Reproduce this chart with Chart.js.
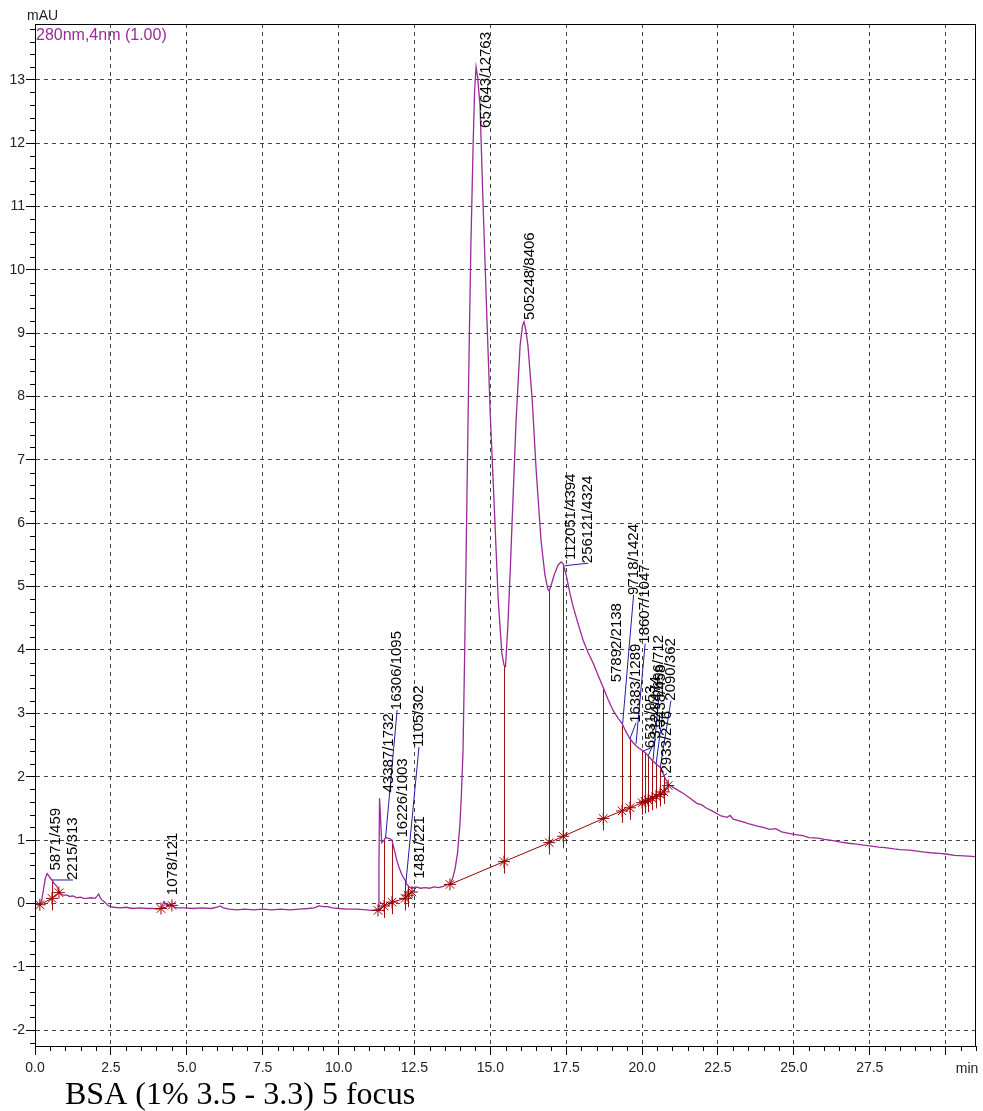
<!DOCTYPE html>
<html><head><meta charset="utf-8">
<script src="https://cdn.jsdelivr.net/npm/chart.js@4.4.0/dist/chart.umd.min.js"></script>
<style>html,body{margin:0;padding:0;background:#fff}canvas{display:block}</style>
</head><body>
<canvas id="c" width="983" height="1111"></canvas>
<script>
// ---- Chromatogram signal (time in min, signal in mAU) ----
const curveTime = [0.00,0.10,0.16,0.22,0.28,0.34,0.40,0.46,0.52,0.56,0.62,0.72,0.79,0.86,0.93,1.05,1.15,1.25,1.38,1.50,1.60,1.71,1.85,1.98,2.05,2.10,2.15,2.20,2.30,2.40,2.47,2.60,2.80,3.00,3.20,3.46,3.70,3.90,4.05,4.15,4.20,4.25,4.32,4.38,4.45,4.51,4.60,4.68,4.90,5.20,5.50,5.80,6.00,6.10,6.20,6.40,6.65,6.90,7.20,7.50,7.80,8.10,8.40,8.70,9.00,9.20,9.35,9.50,9.65,9.80,10.00,10.30,10.60,10.90,11.10,11.25,11.30,11.33,11.35,11.38,11.42,11.46,11.50,11.55,11.62,11.70,11.76,11.84,11.92,12.00,12.08,12.15,12.19,12.25,12.29,12.36,12.42,12.55,12.70,12.85,13.00,13.15,13.30,13.45,13.60,13.67,13.75,13.84,13.92,14.00,14.05,14.10,14.15,14.20,14.25,14.30,14.36,14.43,14.48,14.53,14.58,14.66,14.76,14.89,15.00,15.12,15.26,15.38,15.45,15.50,15.58,15.66,15.72,15.85,15.98,16.06,16.11,16.17,16.24,16.38,16.51,16.67,16.80,16.90,16.94,17.02,17.10,17.23,17.33,17.40,17.50,17.62,17.73,17.90,18.06,18.22,18.39,18.55,18.72,18.88,19.04,19.20,19.34,19.48,19.60,19.70,19.80,19.90,20.00,20.10,20.20,20.33,20.46,20.59,20.72,20.86,21.00,21.20,21.35,21.58,21.80,21.95,22.10,22.35,22.60,22.80,22.90,23.00,23.30,23.50,23.80,24.00,24.20,24.40,24.60,24.80,25.00,25.30,25.50,25.80,26.00,26.30,26.50,26.80,27.00,27.30,27.50,27.80,28.00,28.30,28.50,28.80,29.00,29.30,29.50,29.80,30.00,30.30,30.60,31.00];
const curveSignal = [0.00,-0.02,-0.02,0.05,0.22,0.40,0.47,0.43,0.39,0.37,0.32,0.27,0.19,0.15,0.13,0.13,0.11,0.12,0.09,0.10,0.08,0.08,0.09,0.08,0.12,0.15,0.09,0.06,0.02,-0.03,-0.05,-0.06,-0.07,-0.06,-0.08,-0.07,-0.08,-0.08,-0.09,-0.08,-0.03,0.03,-0.01,-0.02,-0.01,-0.03,-0.06,-0.07,-0.07,-0.08,-0.07,-0.08,-0.06,-0.04,-0.07,-0.09,-0.10,-0.09,-0.10,-0.09,-0.10,-0.09,-0.10,-0.09,-0.08,-0.07,-0.04,-0.05,-0.05,-0.07,-0.08,-0.09,-0.09,-0.10,-0.11,-0.10,-0.11,0.50,1.66,1.40,0.96,0.98,1.00,1.04,1.03,1.02,1.00,0.84,0.68,0.56,0.46,0.40,0.37,0.30,0.28,0.25,0.24,0.26,0.24,0.25,0.24,0.26,0.25,0.27,0.30,0.31,0.38,0.55,0.80,1.25,1.75,2.40,3.80,5.40,7.10,8.70,10.40,11.90,12.80,13.20,13.05,12.60,11.06,9.20,7.70,6.37,4.79,3.95,3.76,3.74,4.40,5.30,6.05,7.63,8.80,9.12,9.18,9.05,8.80,7.95,6.84,5.73,5.18,4.95,4.93,5.05,5.18,5.34,5.39,5.36,5.18,4.90,4.68,4.40,4.15,3.96,3.79,3.60,3.41,3.22,3.05,2.93,2.84,2.70,2.60,2.54,2.49,2.45,2.42,2.38,2.33,2.26,2.20,2.15,2.02,1.88,1.84,1.78,1.74,1.66,1.58,1.56,1.51,1.45,1.38,1.36,1.39,1.33,1.29,1.26,1.22,1.20,1.17,1.18,1.13,1.11,1.09,1.07,1.04,1.03,1.01,0.99,0.97,0.95,0.94,0.92,0.91,0.89,0.88,0.86,0.85,0.84,0.83,0.81,0.80,0.79,0.78,0.76,0.75,0.74];

// ---- Integration baseline (null = break) ----
const baseTime  = [0.16,0.56,0.79,null,4.15,4.51,null,11.30,11.50,11.76,12.19,12.29,12.42,null,13.67,15.45,16.94,17.40,18.72,19.34,19.60,20.00,20.10,20.20,20.33,20.46,20.59,20.72,20.86];
const baseValue = [-0.02,0.08,0.17,null,-0.08,-0.03,null,-0.11,-0.04,0.02,0.08,0.13,0.18,null,0.30,0.66,0.96,1.06,1.34,1.46,1.51,1.59,1.61,1.63,1.66,1.69,1.72,1.76,1.86];

// ---- Peak boundary drop lines: time, signal at top, baseline at bottom ----
const dropTime = [0.56,11.50,11.76,12.19,12.29,15.45,16.94,17.40,18.72,19.34,19.60,20.00,20.10,20.20,20.33,20.46,20.59,20.72];
const dropTop  = [0.37,1.00,1.00,0.37,0.28,3.76,4.93,5.36,3.41,2.84,2.60,2.42,2.38,2.33,2.26,2.20,2.15,2.02];
const dropBase = [0.08,-0.04,0.02,0.08,0.13,0.66,0.96,1.06,1.34,1.46,1.51,1.59,1.61,1.63,1.66,1.69,1.72,1.76];

// ---- Peak labels (area/height) ----
const peakText   = ["5871/459","2215/313","1078/121","43387/1732","16306/1095","16226/1003","1105/302","1481/221","657643/12763","505248/8406","112051/4394","256121/4324","57892/2138","9718/1424","16383/1289","18607/1047","6531/953","3124/474","2696/712","3438/458","2090/362","2933/276"];
const peakTime   = [0.40,0.56,4.45,11.35,11.55,11.76,12.22,12.32,14.53,16.11,17.33,17.45,18.90,19.36,19.60,19.80,20.05,20.20,20.36,20.46,20.60,20.72];
const peakValue  = [0.47,0.37,0.00,1.66,1.04,1.00,0.33,0.27,13.20,9.18,5.39,5.33,3.20,2.84,2.60,2.52,2.41,2.33,2.26,2.20,2.15,2.02];
const labelTime  = [0.69,1.25,4.55,11.66,11.93,12.12,12.65,12.68,14.86,16.31,17.66,18.22,19.18,19.72,19.80,20.10,20.28,20.45,20.55,20.62,20.95,20.82];
const labelValue = [0.52,0.37,0.13,1.75,3.05,1.04,2.47,0.39,12.24,9.21,5.42,5.37,3.49,4.87,2.85,4.10,2.45,2.60,3.25,2.78,3.20,2.05];
const hasLeader  = [false,true,false,false,true,false,true,false,false,false,false,true,false,true,true,true,true,true,true,true,true,true];

// ---- Axes ----
const xTickValues = [0,2.5,5,7.5,10,12.5,15,17.5,20,22.5,25,27.5,30];
const xTickLabels = ["0.0","2.5","5.0","7.5","10.0","12.5","15.0","17.5","20.0","22.5","25.0","27.5",""];
const yTickValues = [-2,-1,0,1,2,3,4,5,6,7,8,9,10,11,12,13];
const yTickLabels = ["-2","-1","0","1","2","3","4","5","6","7","8","9","10","11","12","13"];
const xUnit = "min", yUnit = "mAU";
const channelText = "280nm,4nm (1.00)";
const titleText = "BSA (1% 3.5 - 3.3) 5 focus";

const curvePts = curveTime.map((t,i)=>({x:t,y:curveSignal[i]}));
const basePts = baseTime.map((t,i)=>({x:t===null?NaN:t,y:baseValue[i]}));

const PURPLE = '#9a2a9a', DARKRED = '#990000', BLUE = '#1c1ca8';
const AXFONT = {family:'"Liberation Sans", Arial, sans-serif', size:14};

const decor = {
  id:'decor',
  beforeDatasetsDraw(chart){
    const {ctx} = chart, xs = chart.scales.x, ys = chart.scales.y;
    ctx.save();
    ctx.strokeStyle = '#a01010'; ctx.lineWidth = 1;
    dropTime.forEach((t,i)=>{
      const x = Math.round(xs.getPixelForValue(t))+0.5;
      ctx.beginPath();
      ctx.moveTo(x, ys.getPixelForValue(dropTop[i]));
      ctx.lineTo(x, ys.getPixelForValue(dropBase[i])+12);
      ctx.stroke();
    });
    ctx.restore();
  },
  afterDatasetsDraw(chart){
    const {ctx} = chart, xs = chart.scales.x, ys = chart.scales.y;
    ctx.save();
    ctx.strokeStyle = BLUE; ctx.lineWidth = 1;
    peakText.forEach((s,i)=>{
      if(!hasLeader[i]) return;
      ctx.beginPath();
      ctx.moveTo(xs.getPixelForValue(peakTime[i]), ys.getPixelForValue(peakValue[i]));
      ctx.lineTo(xs.getPixelForValue(labelTime[i]), ys.getPixelForValue(labelValue[i]));
      ctx.stroke();
    });
    ctx.fillStyle = '#000';
    ctx.font = '15px "Liberation Sans", Arial, sans-serif';
    ctx.textAlign = 'left'; ctx.textBaseline = 'middle';
    peakText.forEach((s,i)=>{
      ctx.save();
      ctx.translate(xs.getPixelForValue(labelTime[i]), ys.getPixelForValue(labelValue[i]));
      ctx.rotate(-Math.PI/2);
      ctx.fillText(s, 0, 0);
      ctx.restore();
    });
    ctx.restore();
  },
  afterDraw(chart){
    const {ctx, chartArea:a} = chart, xs = chart.scales.x, ys = chart.scales.y;
    ctx.save();
    ctx.strokeStyle = '#000'; ctx.lineWidth = 1;
    ctx.strokeRect(Math.round(a.left)+0.5, Math.round(a.top)+0.5, Math.round(a.right-a.left)-1, Math.round(a.bottom-a.top));
    ctx.beginPath();
    for(let k=1;k<=62;k++){
      const v = k*0.5; if (v>31) break;
      if (Math.abs(v/2.5-Math.round(v/2.5))<1e-6) continue;
      const x = Math.round(xs.getPixelForValue(v))+0.5;
      ctx.moveTo(x, a.bottom); ctx.lineTo(x, a.bottom+5);
    }
    for(let k=-11;k<=69;k++){
      const v = k*0.2; if (v<-2.25||v>13.88) continue;
      if (Math.abs(v-Math.round(v))<1e-6) continue;
      const y = Math.round(ys.getPixelForValue(v))+0.5;
      ctx.moveTo(a.left-5, y); ctx.lineTo(a.left, y);
    }
    ctx.stroke();
    ctx.fillStyle = '#222';
    ctx.font = '14px "Liberation Sans", Arial, sans-serif';
    ctx.textBaseline = 'alphabetic'; ctx.textAlign = 'left';
    ctx.fillText(yUnit, 27, 20);
    ctx.textAlign = 'center';
    ctx.fillText(xUnit, 967, 1073);
    ctx.textAlign = 'left';
    ctx.fillStyle = PURPLE;
    ctx.font = '16px "Liberation Sans", Arial, sans-serif';
    ctx.fillText(channelText, 36, 40);
    ctx.fillStyle = '#000';
    ctx.font = '32px "Liberation Serif", "Times New Roman", serif';
    ctx.fillText(titleText, 65, 1104);
    ctx.restore();
  }
};

new Chart(document.getElementById('c').getContext('2d'), {
  type:'line',
  data:{datasets:[
    {label:'signal', data:curvePts, borderColor:PURPLE, borderWidth:1.3, pointRadius:0, tension:0, order:1},
    {label:'baseline', data:basePts, borderColor:DARKRED, borderWidth:1, spanGaps:false,
     pointStyle:'star', pointRadius:6, pointBorderColor:DARKRED, pointBorderWidth:1, pointBackgroundColor:DARKRED, order:0}
  ]},
  options:{
    responsive:false, animation:false, devicePixelRatio:1,
    plugins:{legend:{display:false}, tooltip:{enabled:false}},
    layout:{padding:{top:24,right:6,left:0,bottom:0}},
    scales:{
      x:{type:'linear', min:0, max:31,
         afterFit(s){ s.height = 65; },
         afterBuildTicks(s){ s.ticks = xTickValues.map(v=>({value:v})); },
         ticks:{callback:(v,i)=>xTickLabels[i], font:AXFONT, color:'#222', padding:5, maxRotation:0, autoSkip:false},
         grid:{color:'#444', lineWidth:1, tickLength:9, tickColor:'#000', tickBorderDash:[]},
         border:{display:true, color:'#000', width:1, dash:[4,4]}},
      y:{type:'linear', min:-2.25, max:13.88,
         afterFit(s){ s.width = 35; },
         afterBuildTicks(s){ s.ticks = yTickValues.map(v=>({value:v})); },
         ticks:{callback:(v,i)=>yTickLabels[i], font:AXFONT, color:'#222', padding:1, autoSkip:false},
         grid:{color:'#444', lineWidth:1, tickLength:9, tickColor:'#000', tickBorderDash:[]},
         border:{display:true, color:'#000', width:1, dash:[4,4]}}
    }
  },
  plugins:[decor]
});
</script>
</body></html>
